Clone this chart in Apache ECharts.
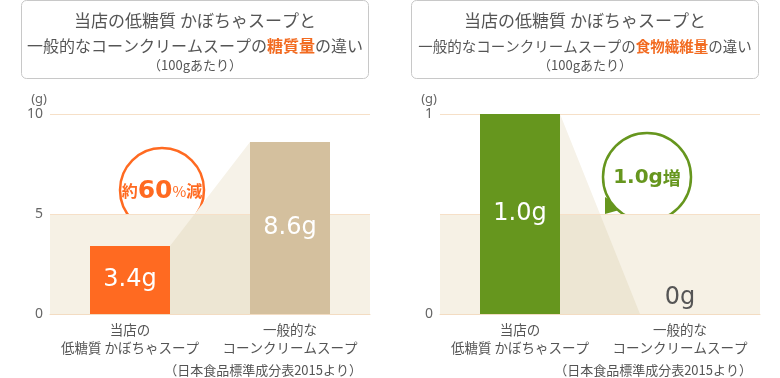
<!DOCTYPE html>
<html>
<head>
<meta charset="utf-8">
<script src="https://cdn.jsdelivr.net/npm/echarts@6/dist/echarts.min.js"></script>
<style>
  html, body { margin: 0; padding: 0; background: #fff; }
  #chart { width: 780px; height: 378px; }
</style>
</head>
<body>
<div id="chart"></div>
<script>
// data
const categories = ['当店の\n低糖質 かぼちゃスープ', '一般的な\nコーンクリームスープ'];
const sugarValues = [3.4, 8.6];
const fiberValues = [1.0, 0];
const sugarAxis = { min: 0, max: 10, interval: 5 };
const fiberAxis = { min: 0, max: 1, interval: 0.5 };
const fiberHiddenTicks = [0.5];

const JP = '"Noto Sans CJK JP", "Noto Sans", sans-serif';
const NUM = '"DejaVu Sans", sans-serif';
const TEXT = '#555';
const GRID_LINE = '#f6e0c8';
const BAND = '#f6f1e5';
const SHADE_UP = '#f6f2e8';
const SHADE_DOWN = '#ede6d3';
const BAR_W = 80;

const sugarColors = ['#ff6a21', '#d4c09e'];
const fiberColors = ['#66961e', '#d4c09e'];

// cut polygon on a horizontal line, keep part above (smaller y) or below
function clip(pts, y, above) {
  const inside = (p) => (above ? p[1] <= y : p[1] >= y);
  const out = [];
  for (let i = 0; i < pts.length; i++) {
    const p = pts[i];
    const q = pts[(i + 1) % pts.length];
    const pi = inside(p);
    const qi = inside(q);
    if (pi) out.push(p);
    if (pi !== qi) {
      const t = (y - p[1]) / (q[1] - p[1]);
      out.push([p[0] + t * (q[0] - p[0]), y]);
    }
  }
  return out;
}

const backdrop = (values, bandTop) => (params, api) => {
  const cs = params.coordSys;
  const base = api.coord([0, 0])[1];
  const bandY = api.coord([0, bandTop])[1];
  const a = api.coord([0, values[0]]);
  const b = api.coord([1, values[1]]);
  const half = BAR_W / 2;
  const poly = [[a[0] + half, a[1]], [b[0] - half, b[1]], [b[0] - half, base], [a[0] + half, base]];
  return {
    type: 'group',
    children: [
      { type: 'rect', shape: { x: cs.x, y: bandY, width: cs.width, height: base - bandY }, style: { fill: BAND } },
      { type: 'polygon', shape: { points: clip(poly, bandY, true) }, style: { fill: SHADE_UP } },
      { type: 'polygon', shape: { points: clip(poly, bandY, false) }, style: { fill: SHADE_DOWN } },
    ],
  };
};

const barData = (values, colors) => values.map((v, i) => ({
  value: v,
  itemStyle: { color: colors[i] },
  label: v === 0
    ? { position: 'top', distance: 4, color: TEXT }
    : { position: 'inside', color: '#fff' },
}));

const makeX = (gridIndex) => ({
  type: 'category',
  gridIndex,
  data: categories,
  z: 1,
  axisTick: { show: false },
  axisLine: { lineStyle: { color: '#f3dcc2', width: 1 } },
  axisLabel: { interval: 0, color: TEXT, fontSize: 13.5, lineHeight: 18, margin: 7, fontFamily: JP },
});

const makeY = (gridIndex, cfg, hidden) => ({
  type: 'value',
  gridIndex,
  min: cfg.min,
  max: cfg.max,
  interval: cfg.interval,
  z: 1,
  name: '(g)',
  nameLocation: 'end',
  nameGap: 8,
  nameTextStyle: { color: '#666', fontSize: 13, align: 'right', padding: [0, 3, 0, 0], fontFamily: '"Noto Sans", sans-serif' },
  axisLine: { show: false },
  axisTick: { show: false },
  splitLine: { lineStyle: { color: GRID_LINE } },
  axisLabel: {
    color: '#666', fontSize: 14, margin: 7, fontFamily: '"Noto Sans", sans-serif',
    formatter: (v) => (hidden.includes(v) ? '' : String(v)),
  },
});

const titleBox = (x, word) => ([
  { type: 'rect', shape: { x: x + 21.5, y: 0.5, width: 347, height: 78, r: 5 }, style: { fill: '#fff', stroke: '#c8c8c8', lineWidth: 1 } },
  { type: 'text', x: x + 195, y: 21, style: { text: '当店の低糖質 かぼちゃスープと', fill: TEXT, font: '17px ' + JP, align: 'center', verticalAlign: 'middle' } },
  {
    type: 'text', x: x + 195, y: 46,
    style: {
      text: '{n|一般的なコーンクリームスープの}{h|' + word + '}{n|の違い}',
      align: 'center', verticalAlign: 'middle',
      rich: {
        n: { fontSize: x ? 14.5 : 16, fill: TEXT, fontFamily: JP },
        h: { fontSize: x ? 14.5 : 16, fill: '#f26b21', fontWeight: 'bold', fontFamily: JP },
      },
    },
  },
  { type: 'text', x: x + 195, y: 65, style: { text: '（100gあたり）', fill: TEXT, font: '13px ' + JP, align: 'center', verticalAlign: 'middle' } },
]);

const source = (x) => ({
  type: 'text', x: x + 362, y: 370,
  style: { text: '（日本食品標準成分表2015より）', fill: TEXT, font: '13px ' + JP, align: 'right', verticalAlign: 'middle' },
});

const bubble = (cx, cy, r, tail, color, text, rich) => ({
  type: 'group',
  z: 10,
  children: [
    { type: 'polygon', shape: { points: tail }, style: { fill: color } },
    { type: 'circle', shape: { cx, cy, r }, style: { fill: '#fff', stroke: color, lineWidth: 2.5 } },
    { type: 'text', x: cx, y: cy + 1, style: { text, rich, align: 'center', verticalAlign: 'middle' } },
  ],
});

const chart = echarts.init(document.getElementById('chart'), null, { renderer: 'canvas' });

chart.setOption({
  animation: false,
  textStyle: { fontFamily: JP },
  grid: [
    { left: 50, top: 114, width: 320, height: 200 },
    { left: 440, top: 114, width: 320, height: 200 },
  ],
  xAxis: [makeX(0), makeX(1)],
  yAxis: [makeY(0, sugarAxis, []), makeY(1, fiberAxis, fiberHiddenTicks)],
  series: [
    { type: 'custom', xAxisIndex: 0, yAxisIndex: 0, z: 0, silent: true, data: [[0, 0]], renderItem: backdrop(sugarValues, 5) },
    { type: 'custom', xAxisIndex: 1, yAxisIndex: 1, z: 0, silent: true, data: [[0, 0]], renderItem: backdrop(fiberValues, 0.5) },
    {
      type: 'bar', xAxisIndex: 0, yAxisIndex: 0, z: 2, barWidth: BAR_W,
      label: { show: true, fontSize: 24, fontFamily: NUM, formatter: (p) => p.value + 'g' },
      data: barData(sugarValues, sugarColors),
    },
    {
      type: 'bar', xAxisIndex: 1, yAxisIndex: 1, z: 2, barWidth: BAR_W,
      label: { show: true, fontSize: 24, fontFamily: NUM, formatter: (p) => (p.value === 0 ? '0' : p.value.toFixed(1)) + 'g' },
      data: barData(fiberValues, fiberColors),
    },
  ],
  graphic: [
    ...titleBox(0, '糖質量'),
    ...titleBox(390, '食物繊維量'),
    source(0),
    source(390),
    bubble(162, 190, 42, [[132, 222], [132, 238], [152, 230]], '#ff6a21', '{a|約}{b|60}{c|%}{a|減}', {
      a: { fontSize: 16, fill: '#ff6a21', fontFamily: JP, fontWeight: 'bold' },
      b: { fontSize: 25, fill: '#ff6a21', fontFamily: NUM, fontWeight: 'bold' },
      c: { fontSize: 15, fill: '#ff6a21', fontFamily: JP },
    }),
    bubble(647, 177, 44, [[605, 197], [605, 214], [623, 209]], '#66961e', '{b|1.0g}{a|増}', {
      a: { fontSize: 18, fill: '#66961e', fontFamily: JP, fontWeight: 'bold' },
      b: { fontSize: 20, fill: '#66961e', fontFamily: NUM, fontWeight: 'bold' },
    }),
  ],
});
</script>
</body>
</html>
